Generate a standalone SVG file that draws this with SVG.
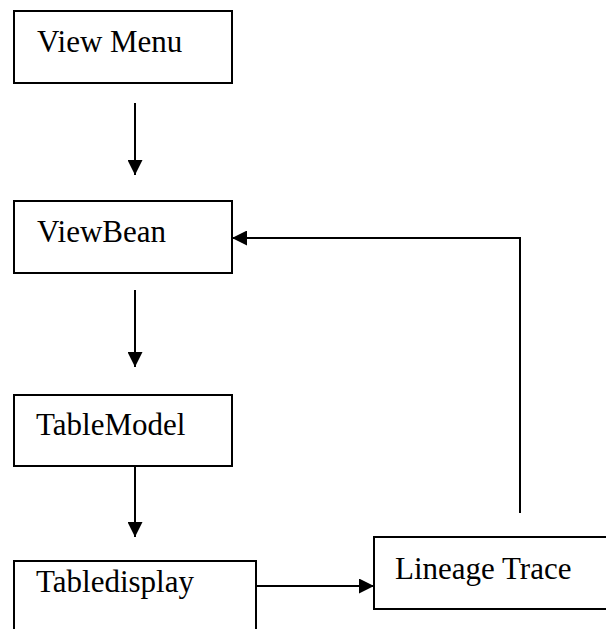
<svg xmlns="http://www.w3.org/2000/svg" width="606" height="629" viewBox="0 0 606 629">
<style>
.box{fill:#fff;stroke:#000;stroke-width:2}
.lbl{font-family:"Liberation Serif","Times New Roman",serif;font-size:31px;fill:#000}
.con{fill:none;stroke:#000;stroke-width:2}
</style>
<defs>
<marker id="ah" markerWidth="15" markerHeight="15" refX="15" refY="7.5" orient="auto" markerUnits="userSpaceOnUse">
<path d="M0,0 L15,7.5 L0,15 Z" fill="#000"/>
</marker>
</defs>
<rect width="606" height="629" fill="#fff"/>
<g id="view-menu"><rect class="box" x="14" y="11" width="218" height="72"/><text class="lbl" x="37" y="52">View Menu</text></g>
<g id="viewbean"><rect class="box" x="14" y="201" width="218" height="72"/><text class="lbl" x="37" y="242">ViewBean</text></g>
<g id="tablemodel"><rect class="box" x="14" y="395" width="218" height="71"/><text class="lbl" x="36" y="435">TableModel</text></g>
<g id="tabledisplay"><rect class="box" x="14" y="561" width="242" height="80"/><text class="lbl" x="36" y="592">Tabledisplay</text></g>
<g id="lineage-trace"><rect class="box" x="374" y="537" width="240" height="72"/><text class="lbl" x="395" y="579">Lineage Trace</text></g>
<g id="connectors">
<line class="con" x1="135" y1="103" x2="135" y2="175" marker-end="url(#ah)"/>
<line class="con" x1="135" y1="290" x2="135" y2="367" marker-end="url(#ah)"/>
<line class="con" x1="135" y1="466" x2="135" y2="537" marker-end="url(#ah)"/>
<line class="con" x1="256" y1="586" x2="374" y2="586" marker-end="url(#ah)"/>
<polyline class="con" points="520,513 520,238 232,238" marker-end="url(#ah)"/>
</g>
</svg>
